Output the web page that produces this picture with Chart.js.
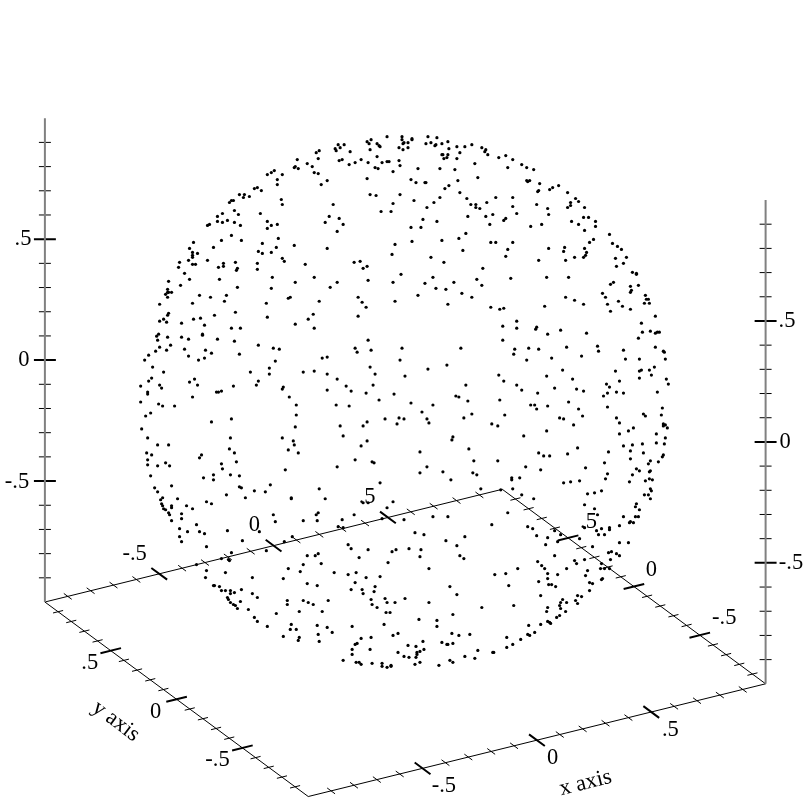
<!DOCTYPE html>
<html>
<head>
<meta charset="utf-8">
<title>sphere</title>
<script src="https://cdn.jsdelivr.net/npm/chart.js@4/dist/chart.umd.min.js"></script>
<style>
  html, body { margin: 0; padding: 0; background: #fff; }
  canvas { display: block; }
</style>
</head>
<body>
<canvas id="c" width="812" height="812"></canvas>
<script>
// points, [across, down] on the view plane
const sphereTop = [[297,159],[307,163],[312,166],[314,172],[294,167],[295,166],[298,168],[274,170],[271,172],[267,174],[282,174],[277,179],[277,184],[254,188],[257,187],[261,190],[239,194],[244,194],[243,197],[249,196],[233,200],[231,200],[229,202],[281,199],[282,204],[234,210],[238,214],[222,213],[217,216],[260,213],[217,221],[222,222],[227,220],[234,222],[240,225],[209,224],[207,225],[267,221],[271,225],[277,224],[267,228],[231,235],[278,238],[221,240],[241,240],[193,242],[262,243],[294,245],[213,247],[276,247],[189,248],[258,251],[262,253],[271,252],[192,252],[197,253],[192,255],[192,257],[282,258],[284,261],[188,260],[207,260],[179,262],[192,264],[195,264],[223,263],[235,262],[257,263],[305,264],[178,267],[218,267],[223,266],[237,268],[236,270],[257,269],[184,273],[272,277],[314,277],[189,279],[219,279],[168,281],[295,282],[180,285],[237,287],[271,288],[167,289],[167,292],[168,292],[171,292],[165,294],[167,297],[199,295],[210,297],[226,295],[290,297],[288,298],[224,301],[192,303],[159,304],[266,303],
[387,136],[402,136],[402,139],[412,138],[412,139],[428,136],[437,137],[371,139],[367,141],[369,143],[377,143],[379,145],[380,146],[404,142],[408,142],[403,143],[431,142],[426,143],[436,144],[435,145],[442,143],[448,141],[449,148],[338,144],[344,144],[340,147],[335,148],[336,150],[350,151],[370,149],[399,147],[403,149],[408,147],[457,146],[465,146],[472,144],[482,147],[486,149],[485,151],[488,154],[460,152],[319,150],[316,152],[318,158],[442,154],[443,154],[448,154],[447,157],[444,158],[457,158],[377,156],[361,159],[342,159],[339,160],[355,162],[349,164],[368,162],[382,162],[387,161],[389,161],[399,160],[400,165],[475,163],[318,173],[375,167],[378,168],[418,168],[440,168],[455,169],[393,171],[478,177],[367,178],[411,179],[327,180],[416,182],[425,182],[426,182],[458,180],[321,184],[449,185],[445,188],[460,192],[370,194],[376,195],[400,194],[440,197],[467,198],[414,200],[434,202],[487,202],[393,203],[333,204],[471,204],[476,204],[476,207],[480,208],[427,207],[381,211],[391,211],[493,214],[329,216],[468,216],[486,216],[339,218],[423,219],[437,221],[325,222],[343,224],[490,224],[411,227],[421,227],[337,231],[466,233],[459,238],[412,241],[442,240],[491,242],[395,244],[327,248],[463,250],[392,254],[431,257],[360,261],[354,262],[444,262],[367,266],[363,268],[483,268],[401,274],[433,277],[368,280],[393,282],[337,282],[477,279],[425,283],[454,282],[482,285],[330,287],[436,288],[446,289],[462,293],[418,295],[472,297],[358,297],[362,302],[319,301],[395,301],[366,307],[448,304],[491,307],
[499,157],[506,155],[513,159],[508,167],[522,164],[527,167],[534,169],[527,180],[528,181],[530,180],[540,183],[539,190],[538,191],[550,189],[553,187],[559,185],[568,192],[496,197],[513,197],[576,198],[579,201],[571,202],[571,205],[568,207],[585,207],[537,204],[548,208],[513,206],[517,213],[549,214],[584,217],[589,217],[506,218],[504,220],[572,221],[596,221],[531,226],[542,224],[579,224],[596,226],[585,230],[610,234],[594,239],[496,242],[513,242],[590,242],[613,243],[618,246],[622,249],[585,248],[565,247],[564,251],[549,248],[508,249],[587,252],[586,255],[584,257],[575,257],[506,256],[627,257],[616,258],[539,260],[566,260],[624,263],[617,266],[633,272],[637,273],[637,274],[511,278],[547,277],[569,277],[614,282],[611,284],[639,285],[631,286],[632,290],[631,292],[603,293],[646,295],[606,297],[566,297],[647,299],[649,299],[619,301],[575,300],[645,303],[650,303],[584,304],[608,304],[623,306],[545,306],[504,308],[500,309],[631,309]];

const sphereMiddle = [[168,313],[167,315],[163,319],[159,321],[166,322],[235,312],[214,315],[267,317],[193,319],[200,318],[181,323],[313,314],[308,319],[295,324],[204,325],[231,328],[240,328],[314,328],[158,334],[156,336],[202,334],[202,335],[167,337],[181,337],[157,340],[188,339],[217,339],[234,341],[170,345],[159,347],[258,345],[273,348],[279,349],[166,350],[155,351],[184,349],[205,350],[211,353],[239,354],[148,355],[188,356],[204,358],[198,360],[144,360],[275,361],[152,367],[269,368],[163,372],[250,372],[269,374],[303,372],[314,371],[151,378],[148,381],[194,379],[189,382],[258,381],[197,385],[256,385],[140,386],[159,385],[161,388],[233,386],[283,387],[282,389],[221,391],[218,392],[216,392],[147,392],[147,394],[192,397],[289,397],[140,402],[158,404],[162,406],[174,406],[296,405],[150,413],[145,416],[296,415],[231,419],[211,422],[141,429],[295,427],[147,438],[230,438],[282,438],[293,441],[294,445],[157,445],[168,445],[229,449],[288,450],[146,453],[151,455],[234,453],[298,453],[201,455],[199,458],[147,460],[236,462],[165,463],[221,464],[147,465],[157,466],[169,466],[222,469],[285,470],[150,476],[213,475],[230,475],[239,476],[203,478],[213,480],[171,486],[154,488],[239,487],[241,488],[270,485],
[358,316],[368,340],[355,348],[402,348],[461,348],[371,350],[357,352],[327,357],[322,358],[400,360],[447,365],[370,367],[428,369],[327,374],[375,374],[405,376],[337,379],[466,385],[346,386],[373,385],[327,390],[351,391],[366,393],[394,394],[456,396],[459,397],[468,401],[379,400],[411,403],[433,405],[336,405],[349,406],[422,412],[472,414],[464,418],[385,419],[399,418],[404,419],[427,419],[367,422],[397,424],[429,423],[492,424],[363,426],[340,426],[343,436],[453,437],[452,440],[367,441],[361,446],[469,449],[420,452],[355,460],[372,462],[374,463],[474,461],[337,467],[427,467],[443,472],[420,473],[473,473],[477,475],[451,480],[380,483],[481,489],[319,489],
[611,311],[656,316],[517,321],[642,323],[503,326],[517,328],[537,327],[536,329],[561,330],[643,332],[651,331],[658,332],[656,333],[660,332],[548,334],[587,333],[639,338],[503,340],[567,347],[598,346],[656,347],[515,349],[529,348],[539,349],[599,351],[624,350],[664,351],[665,352],[514,354],[582,356],[552,358],[527,360],[626,359],[640,359],[666,359],[655,367],[563,370],[616,371],[640,371],[642,370],[650,370],[499,375],[547,376],[652,375],[640,378],[573,379],[667,379],[504,381],[620,381],[607,384],[669,384],[517,385],[610,387],[555,388],[577,389],[522,390],[584,391],[538,393],[608,393],[617,392],[624,393],[658,392],[604,396],[500,400],[569,402],[531,405],[535,405],[548,406],[608,407],[537,409],[579,409],[663,408],[644,414],[646,416],[662,415],[505,415],[583,416],[617,418],[560,418],[564,419],[620,423],[498,426],[574,425],[664,424],[666,425],[664,426],[668,428],[634,428],[629,431],[547,431],[620,434],[524,436],[657,434],[666,438],[624,446],[633,445],[643,444],[657,443],[665,444],[578,448],[631,451],[609,452],[644,453],[539,453],[544,456],[550,456],[568,454],[664,455],[663,457],[631,459],[498,461],[605,463],[651,461],[649,464],[659,462],[526,467],[586,468],[541,470],[637,469],[640,471],[651,471],[650,472],[608,474],[633,475],[512,478],[512,480],[520,478],[606,479],[650,479],[653,480],[646,481],[630,482],[580,481],[571,482],[564,483],[651,489],[513,489],[501,490]];

const sphereBottom = [[157,492],[254,491],[265,492],[226,495],[245,498],[162,498],[160,500],[177,499],[291,498],[291,499],[206,502],[211,504],[161,504],[162,506],[171,506],[171,508],[186,506],[192,509],[163,509],[165,510],[168,513],[169,515],[181,514],[181,519],[273,515],[171,521],[275,522],[303,521],[196,525],[179,529],[187,532],[199,532],[204,534],[227,531],[259,532],[179,537],[181,542],[242,541],[292,537],[284,542],[206,547],[266,551],[231,553],[307,556],[315,556],[221,559],[229,561],[228,560],[196,565],[303,565],[206,571],[288,569],[300,572],[225,573],[205,578],[252,578],[283,579],[307,584],[213,586],[214,586],[219,587],[241,590],[221,591],[225,591],[230,591],[230,594],[234,593],[252,594],[257,598],[227,598],[228,600],[240,602],[303,601],[308,603],[313,605],[287,601],[287,605],[230,603],[233,605],[235,606],[237,609],[248,610],[276,614],[299,612],[254,618],[257,622],[267,627],[291,625],[290,630],[296,630],[283,637],[299,638],[298,641],
[325,499],[363,503],[368,503],[393,502],[387,508],[318,513],[316,515],[354,515],[342,520],[317,521],[404,520],[433,517],[448,517],[382,519],[338,527],[343,528],[415,533],[424,535],[465,537],[446,541],[348,545],[457,546],[351,549],[368,550],[409,549],[421,550],[396,550],[392,552],[318,554],[359,558],[420,557],[460,556],[464,559],[388,563],[321,564],[429,569],[334,573],[348,575],[356,573],[366,578],[380,577],[355,583],[317,586],[375,587],[450,587],[351,590],[362,590],[374,592],[363,594],[457,595],[385,599],[371,600],[328,601],[405,599],[387,603],[395,603],[429,603],[372,605],[377,608],[322,612],[482,608],[386,613],[390,613],[453,615],[419,620],[437,621],[384,625],[437,627],[317,626],[352,627],[327,628],[332,633],[318,635],[452,634],[459,636],[470,635],[398,634],[393,636],[371,638],[361,639],[319,642],[423,642],[442,643],[357,644],[355,645],[447,645],[448,645],[453,644],[408,646],[416,647],[352,650],[370,650],[424,650],[420,652],[417,653],[478,651],[493,653],[398,653],[352,655],[417,655],[404,657],[409,658],[416,658],[465,657],[475,659],[343,661],[356,663],[359,663],[361,665],[372,664],[382,664],[382,667],[387,668],[391,666],[391,667],[420,663],[415,665],[439,666],[450,661],[453,663],
[522,495],[534,499],[588,494],[595,493],[602,491],[645,495],[649,495],[652,491],[651,499],[585,505],[637,504],[636,507],[640,510],[595,509],[598,515],[508,513],[624,517],[636,517],[639,517],[492,525],[631,522],[630,523],[634,523],[620,526],[528,527],[533,529],[585,528],[555,531],[602,529],[597,531],[610,528],[610,530],[599,535],[605,535],[537,536],[548,538],[561,535],[558,542],[580,539],[546,545],[620,543],[629,543],[593,547],[609,553],[612,552],[617,554],[620,556],[555,556],[611,560],[538,562],[575,561],[577,564],[585,560],[542,566],[602,564],[601,569],[605,569],[610,569],[567,569],[518,569],[545,569],[588,571],[548,574],[558,575],[586,576],[495,575],[506,574],[548,579],[603,579],[602,580],[539,582],[590,583],[593,584],[549,585],[552,585],[556,587],[509,586],[590,591],[541,596],[578,596],[582,597],[563,600],[576,601],[561,603],[567,603],[578,604],[560,606],[514,606],[561,609],[548,608],[547,612],[566,612],[560,616],[557,618],[548,622],[550,623],[551,624],[541,625],[529,626],[535,633],[528,635],[530,636],[507,638],[521,640],[513,645],[507,648],[494,653]];

// axis ticks, same on all three axes
const minorTicks = [-0.9,-0.8,-0.7,-0.6,-0.4,-0.3,-0.2,-0.1,0.1,0.2,0.3,0.4,0.6,0.7,0.8,0.9];
const majorTicks = [-0.5,0,0.5];
const tickText = ['-.5','0','.5'];

// view of the unit cube on the plane
const center = [405.25,401];
const xDir = [229.25,-56.5];
const yDir = [-132,-97.5];
const zDir = [0,-242.5];

function view(x,y,z) {
  return {
    x: center[0]+x*xDir[0]+y*yDir[0]+z*zDir[0],
    y: center[1]+x*xDir[1]+y*yDir[1]+z*zDir[1]
  };
}

// line dataset pieces, a NaN point breaks the line
function segs(list) {
  const out = [];
  list.forEach(s => { out.push(s[0],s[1],{x:NaN,y:NaN}); });
  return out;
}

function floorTicks(vals,xLen,yLen) {
  const s = [];
  vals.forEach(v => {
    s.push([view(v,1+yLen,-1),view(v,1-yLen,-1)]);
    s.push([view(v,-1+yLen,-1),view(v,-1-yLen,-1)]);
    s.push([view(-1-xLen,v,-1),view(-1+xLen,v,-1)]);
    s.push([view(1-xLen,v,-1),view(1+xLen,v,-1)]);
  });
  return s;
}

function zTicks(vals,len) {
  const s = [];
  vals.forEach(v => {
    [view(-1,1,v),view(1,-1,v)].forEach(p => {
      s.push([{x:p.x-len,y:p.y},{x:p.x+len,y:p.y}]);
    });
  });
  return s;
}

const edges = [
  [view(-1,1,-1),view(1,1,-1)],
  [view(1,1,-1),view(1,-1,-1)],
  [view(1,-1,-1),view(-1,-1,-1)],
  [view(-1,-1,-1),view(-1,1,-1)]
];
const uprights = [
  [view(-1,1,-1),view(-1,1,1)],
  [view(1,-1,-1),view(1,-1,1)]
];

function lineSet(data,color,width) {
  return {type:'scatter',data:data,showLine:true,spanGaps:false,borderColor:color,borderWidth:width,pointRadius:0,fill:false};
}

function dots(pairs) {
  return {type:'scatter',data:pairs.map(p => ({x:p[0],y:p[1]})),showLine:false,pointRadius:1.6,pointBorderWidth:0,pointBackgroundColor:'#000'};
}

// axis text, anchored in the same view plane
const labels = [
  {t:tickText[2],x:22,y:239},{t:tickText[1],x:23,y:360},{t:tickText[0],x:16,y:482},
  {t:tickText[2],x:788,y:321},{t:tickText[1],x:786,y:442},{t:tickText[0],x:792,y:563},
  {t:tickText[0],x:134,y:554},{t:tickText[1],x:254,y:525},{t:tickText[2],x:367,y:497},
  {t:tickText[0],x:444,y:787},{t:tickText[1],x:553,y:759},{t:tickText[2],x:671,y:731},
  {t:tickText[2],x:89,y:664},{t:tickText[1],x:155,y:713},{t:tickText[0],x:217,y:761},
  {t:tickText[2],x:589,y:522},{t:tickText[1],x:652,y:571},{t:tickText[0],x:725,y:619},
  {t:'x axis',x:586,y:784,r:-14},
  {t:'y axis',x:115,y:722,r:37}
];

const axisText = {
  id:'axisText',
  afterDatasetsDraw(chart) {
    const g = chart.ctx, sx = chart.scales.x, sy = chart.scales.y;
    g.save();
    g.fillStyle = '#000';
    g.font = '22.5px "Liberation Serif"';
    g.textAlign = 'center';
    g.textBaseline = 'middle';
    labels.forEach(l => {
      g.save();
      g.translate(sx.getPixelForValue(l.x),sy.getPixelForValue(l.y));
      if (l.r) g.rotate(l.r*Math.PI/180);
      g.fillText(l.t,0,0);
      g.restore();
    });
    g.restore();
  }
};

new Chart(document.getElementById('c'),{
  type:'scatter',
  data:{datasets:[
    lineSet(segs(uprights),'#808080',2),
    lineSet(segs(edges),'#000',1),
    lineSet(segs(floorTicks(minorTicks,0.022,0.03).concat(zTicks(minorTicks,6))),'#000',1),
    lineSet(segs(floorTicks(majorTicks,0.045,0.06).concat(zTicks(majorTicks,11))),'#000',2),
    dots(sphereTop),
    dots(sphereMiddle),
    dots(sphereBottom)
  ]},
  options:{
    responsive:false,
    animation:false,
    layout:{padding:0},
    plugins:{legend:{display:false},tooltip:{enabled:false}},
    scales:{
      // the plot area sits 3 in from the canvas, the range follows it
      x:{type:'linear',min:3,max:809,display:false},
      y:{type:'linear',min:3,max:809,reverse:true,display:false}
    }
  },
  plugins:[axisText]
});
</script>
</body>
</html>
